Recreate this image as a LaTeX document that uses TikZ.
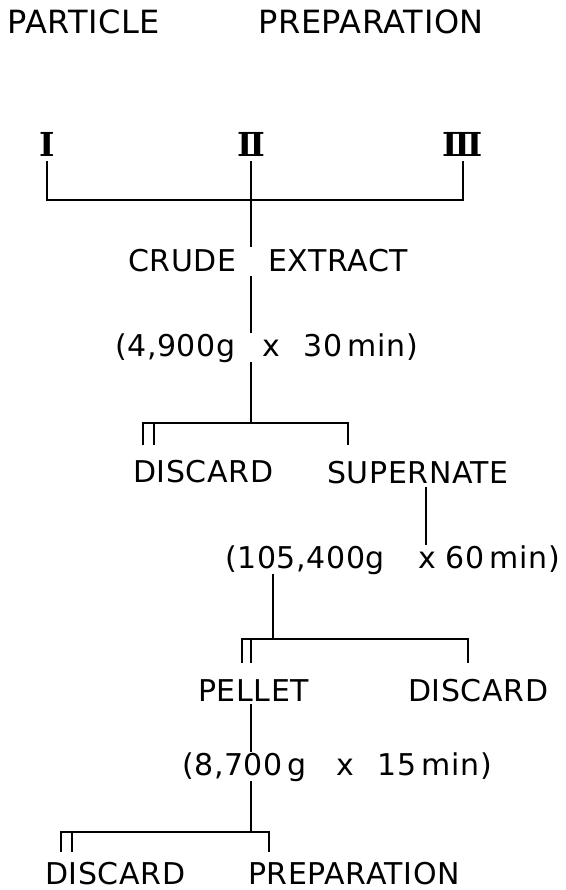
\documentclass[tikz,border=0pt]{standalone}
\usepackage{fontspec}
\newfontfamily\lettering[LetterSpace=2]{DejaVu Sans}
\newfontfamily\numerals{DejaVu Serif}
\tikzstyle{word} = [font=\lettering\fontsize{30}{36}\selectfont, inner xsep=0pt, inner ysep=3pt]
\tikzstyle{spin} = [word, inner ysep=0pt]
\tikzstyle{numeral} = [font=\numerals\bfseries\fontsize{33}{38}\selectfont, inner sep=5pt]
\tikzstyle{link} = [line width=2.4pt]
\begin{document}
\begin{tikzpicture}[x=1pt, y=-1pt]
\useasboundingbox (0,0) rectangle (565,890);
% Title
\node[word, font=\lettering\fontsize{32}{38}\selectfont, anchor=base west] (ttl1) at (7,34) {PARTICLE};
\node[word, font=\lettering\fontsize{32}{38}\selectfont, anchor=base west] (ttl2) at (258,34) {PREPARATION};

% Fractions
\node[numeral] (f1) at (47,144) {Ⅰ};
\node[numeral] (f2) at (251,144) {Ⅱ};
\node[numeral] (f3) at (463,144) {Ⅲ};

% First spin
\node[word, anchor=base west] (crude) at (128,272) {CRUDE};
\node[word, anchor=base west] (extract) at (268,272) {EXTRACT};
\node[spin, anchor=base west] (spinA1) at (115,356) {(4,900g};
\node[spin, anchor=base west] (spinB1) at (262,356) {x\hspace{24pt}30\,min)};
\node[word, anchor=base west] (disc1) at (133,482) {DISCARD};
\node[word, anchor=base west] (super) at (327,483) {SUPERNATE};

% Second spin
\node[spin, anchor=base east] (spinA2) at (385,568) {(105,400g};
\node[spin, anchor=base west] (spinB2) at (418,568) {x\hspace{10pt}60\,min)};
\node[word, anchor=base west] (pellet) at (198,701) {PELLET};
\node[word, anchor=base west] (disc2) at (408,701) {DISCARD};

% Third spin
\node[spin, anchor=base east] (spinA3) at (307,775) {(8,700\,g};
\node[spin, anchor=base west] (spinB3) at (336,775) {x\hspace{24pt}15\,min)};
\node[word, anchor=base west] (disc3) at (45,884) {DISCARD};
\node[word, anchor=base west] (prep) at (248,884) {PREPARATION};

% Junctions and tick ends
\coordinate (j0) at (251,200);
\coordinate (j1) at (251,423);
\coordinate (j2) at (273,639);
\coordinate (j3) at (251,832);
\coordinate (t1a) at (143,445);
\coordinate (t1b) at (154,445);
\coordinate (t1c) at (348,445);
\coordinate (t2a) at (242,663);
\coordinate (t2b) at (251,663);
\coordinate (t2c) at (468,663);
\coordinate (t3a) at (61,852);
\coordinate (t3b) at (72,852);
\coordinate (t3c) at (269,852);

% Lines
\draw[link] (f1.south) |- (j0) -| (f3.south);
\draw[link] (f2.south) -- (f2.south |- crude.north);
\draw[link] (crude.south -| j1) -- (spinA1.north -| j1);
\draw[link] (spinA1.south -| j1) -- (j1);
\draw[link] (t1a) |- (j1) -| (t1c);
\draw[link] (t1b) -- (t1b |- j1);
\draw[link] ([xshift=8pt]super.south) -- ([xshift=8pt]super.south |- spinB2.north);
\draw[link] (spinA2.south -| j2) -- (j2);
\draw[link] (t2a) |- (j2) -| (t2c);
\draw[link] (t2b) -- (t2b |- j2);
\draw[link] (pellet.south -| j3) -- (spinA3.north -| j3);
\draw[link] (spinA3.south -| j3) -- (j3);
\draw[link] (t3a) |- (j3) -| (t3c);
\draw[link] (t3b) -- (t3b |- j3);
\end{tikzpicture}
\end{document}
